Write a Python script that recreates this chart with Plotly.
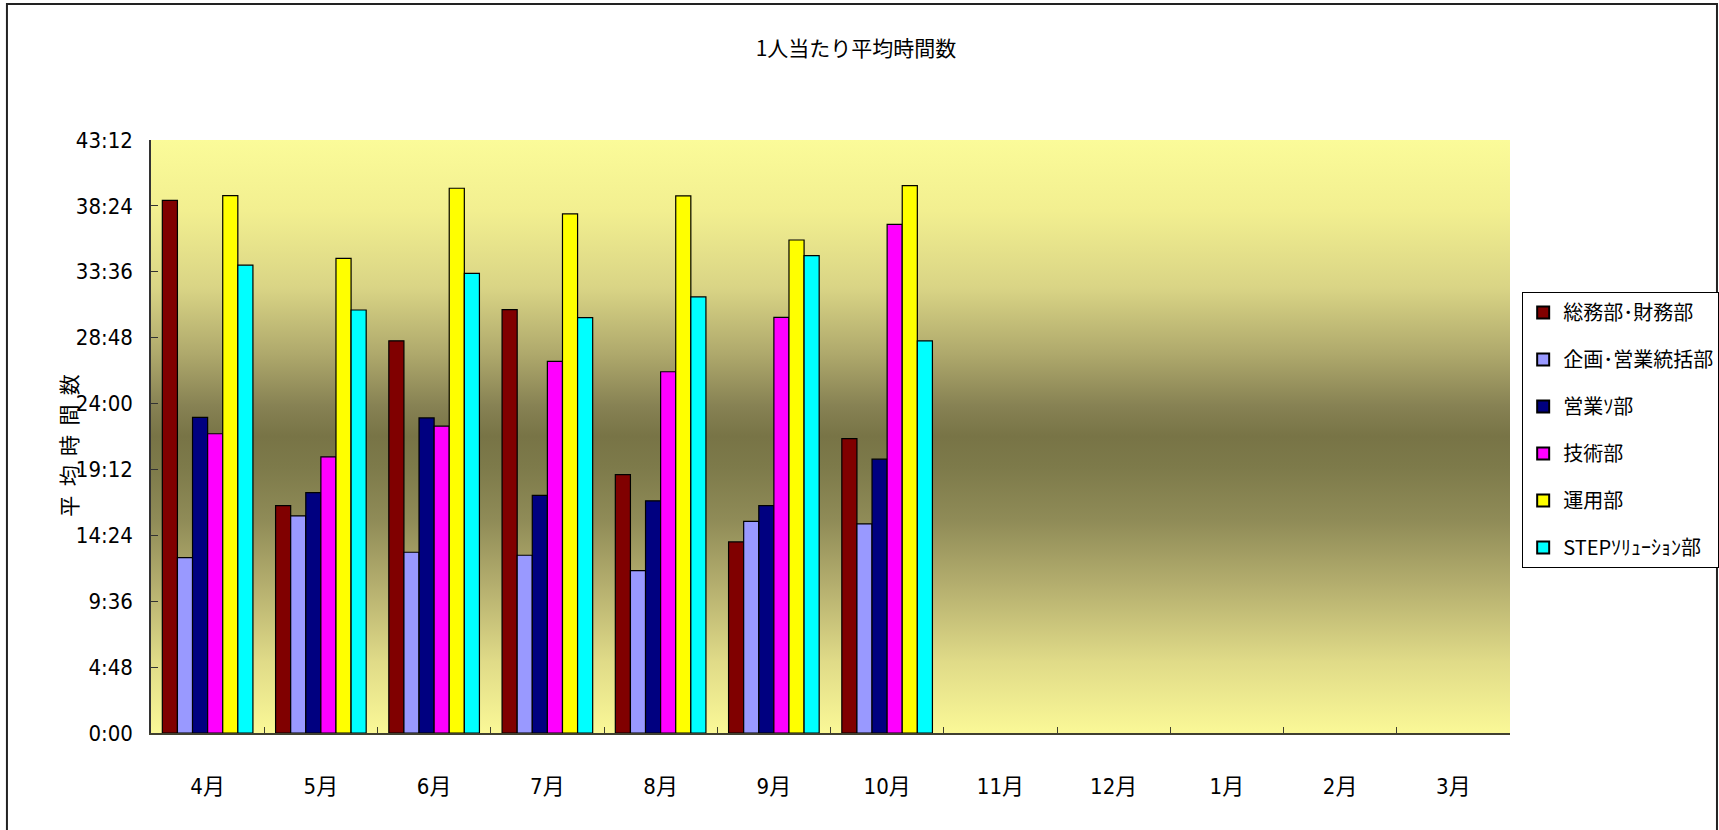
import base64
import plotly.graph_objects as go

# Months of the fiscal year (April to March)
months = ["4月", "5月", "6月", "7月", "8月", "9月", "10月", "11月", "12月", "1月", "2月", "3月"]

# Department names and bar colours
departments = ["総務部･財務部", "企画･営業統括部", "営業ｿ部", "技術部", "運用部", "STEPｿﾘｭｰｼｮﾝ部"]
colors = ["#800000", "#9999FF", "#000080", "#FF00FF", "#FFFF00", "#00FFFF"]

# Average hours per person (h:mm), April-October recorded so far
soumu = ["38:48", "16:34", "28:34", "30:51", "18:49", "13:55", "21:27"]
kikaku = ["12:47", "15:49", "13:10", "12:57", "11:50", "15:25", "15:14"]
eigyo = ["23:00", "17:31", "22:57", "17:19", "16:55", "16:34", "19:57"]
gijutsu = ["21:48", "20:07", "22:21", "27:04", "26:19", "30:17", "37:03"]
unyou = ["39:09", "34:35", "39:41", "37:49", "39:08", "35:55", "39:53"]
step = ["34:05", "30:49", "33:29", "30:16", "31:46", "34:47", "28:34"]

series = [soumu, kikaku, eigyo, gijutsu, unyou, step]

# Y axis ticks every 4:48 up to 43:12
tick_hours = [0, 4.8, 9.6, 14.4, 19.2, 24.0, 28.8, 33.6, 38.4, 43.2]
tick_labels = ["0:00", "4:48", "9:36", "14:24", "19:12", "24:00", "28:48", "33:36", "38:24", "43:12"]


def to_hours(hm):
    h, m = hm.split(":")
    return int(h) + int(m) / 60.0


fig = go.Figure()
for name, color, vals in zip(departments, colors, series):
    y = [to_hours(v) for v in vals] + [None] * (len(months) - len(vals))
    fig.add_trace(go.Bar(
        x=months, y=y, name=name, legendgroup=name,
        marker=dict(color=color, line=dict(color="black", width=1.2)),
        customdata=[v for v in vals] + [""] * (len(months) - len(vals)),
        hovertemplate="%{x} " + name + ": %{customdata}<extra></extra>",
    ))

# Olive gradient fill for the plot area (light at the edges, dark in the middle)
stops = [(0.0, "#FBFB99"), (0.12, "#F2EF90"), (0.25, "#D9D485"), (0.36, "#AFA96C"),
         (0.45, "#868153"), (0.5, "#787446"), (0.55, "#7D7A4A"), (0.64, "#8F8B57"),
         (0.75, "#B4AE6E"), (0.88, "#E0DB88"), (1.0, "#FAF897")]
stop_xml = "".join(f"<stop offset='{o}' stop-color='{c}'/>" for o, c in stops)
svg = ("<svg xmlns='http://www.w3.org/2000/svg' width='100' height='100' viewBox='0 0 100 100' "
       "preserveAspectRatio='none'><defs><linearGradient id='g' x1='0' y1='0' x2='0' y2='1'>"
       + stop_xml + "</linearGradient></defs><rect width='100' height='100' fill='url(#g)'/></svg>")
bg_src = "data:image/svg+xml;base64," + base64.b64encode(svg.encode()).decode()

narrow = "Liberation Sans Narrow, DejaVu Sans Condensed, Noto Sans CJK JP, sans-serif"
cjk = "Noto Sans CJK JP, sans-serif"

fig.update_layout(
    width=1719, height=830,
    margin=dict(l=151, r=209, t=140, b=97),
    paper_bgcolor="white",
    plot_bgcolor="rgba(0,0,0,0)",
    barmode="group", bargap=0.2, bargroupgap=0,
    title=dict(text="1人当たり平均時間数", x=0.498, xanchor="center", y=0.941, yanchor="middle",
               font=dict(family=cjk, size=21, color="black")),
    images=[dict(source=bg_src, xref="paper", yref="paper", x=0, y=1, sizex=1, sizey=1,
                 xanchor="left", yanchor="top", sizing="stretch", layer="below")],
    xaxis=dict(
        type="category", categoryorder="array", categoryarray=months,
        showline=True, linecolor="#404030", linewidth=1.5,
        ticks="inside", tickson="boundaries", ticklen=6, tickcolor="#404030",
        tickfont=dict(family=narrow, size=22, color="black"),
        ticklabelstandoff=33, showgrid=False, zeroline=False,
    ),
    yaxis=dict(
        range=[0, 43.2], tickvals=tick_hours, ticktext=tick_labels,
        showline=True, linecolor="#333333", linewidth=1.5,
        ticks="inside", ticklen=7, tickcolor="#333333",
        tickfont=dict(family=narrow, size=22, color="black"),
        ticklabelstandoff=12, showgrid=False, zeroline=False,
    ),
    legend=dict(
        xref="container", yref="container",
        x=0.8855, xanchor="left", y=0.6482, yanchor="top",
        bgcolor="white", bordercolor="black", borderwidth=1,
        font=dict(family=cjk, size=20, color="black"),
        tracegroupgap=18, itemsizing="constant",
    ),
    annotations=[dict(
        text="平\u00a0\u00a0均\u00a0\u00a0時\u00a0\u00a0間\u00a0\u00a0数", textangle=-90,
        xref="paper", yref="paper", x=-0.0611, y=0.486, xanchor="center", yanchor="middle",
        showarrow=False, font=dict(family=cjk, size=21, color="black"),
    )],
    shapes=[dict(type="rect", xref="paper", yref="paper",
                 x0=-0.106, x1=1.1523, y0=-0.2, y1=1.2293,
                 line=dict(color="#222222", width=2), layer="above")],
    showlegend=True,
)

fig.write_html("out.html")
